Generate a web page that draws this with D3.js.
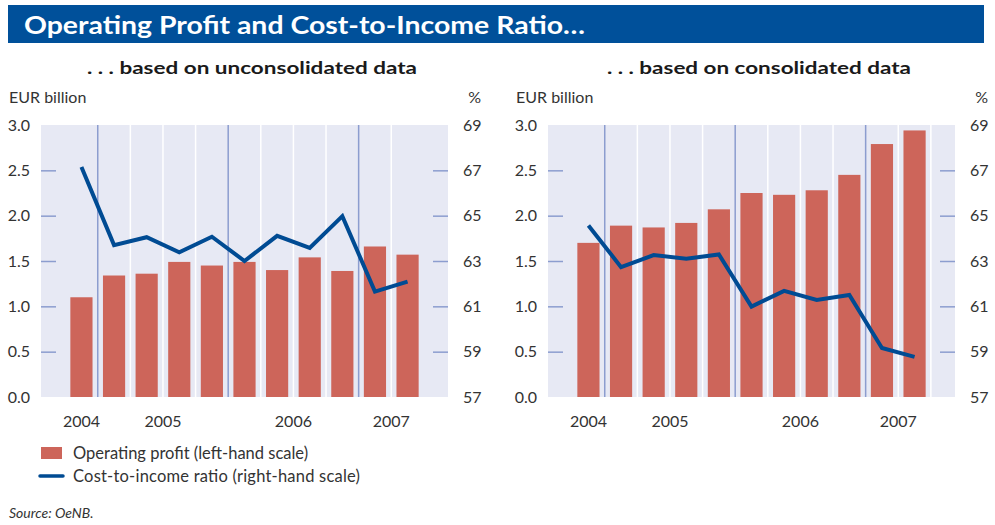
<!DOCTYPE html>
<html>
<head>
<meta charset="utf-8">
<script src="https://cdn.jsdelivr.net/npm/d3@7"></script>
<style>
  body { margin: 0; background: #fff; }
  text { font-family: Lato, "Open Sans", sans-serif; }
</style>
</head>
<body>
<div id="chart-area"></div>
<script>
// quarters shown on both panels (Q4 2004 .. Q2 2007)
var quarters = ["Q4 04", "Q1 05", "Q2 05", "Q3 05", "Q4 05", "Q1 06", "Q2 06", "Q3 06", "Q4 06", "Q1 07", "Q2 07"];
var quarterYear = ["2004", "2005", "2005", "2005", "2005", "2006", "2006", "2006", "2006", "2007", "2007"];
var years = ["2004", "2005", "2006", "2007"];

// operating profit, EUR billion
var profitUncons = [1.10, 1.34, 1.36, 1.49, 1.45, 1.49, 1.40, 1.54, 1.39, 1.66, 1.57];
var profitCons   = [1.70, 1.89, 1.87, 1.92, 2.07, 2.25, 2.23, 2.28, 2.45, 2.79, 2.94];

// cost-to-income ratio, %
var ratioUncons = [67.15, 63.70, 64.05, 63.38, 64.07, 63.00, 64.11, 63.58, 64.98, 61.65, 62.09];
var ratioCons   = [64.57, 62.73, 63.26, 63.10, 63.29, 60.99, 61.68, 61.28, 61.50, 59.16, 58.77];

var leftTicks = [0, 0.5, 1.0, 1.5, 2.0, 2.5, 3.0];
var rightTicks = [57, 59, 61, 63, 65, 67, 69];

var barColor = "#cd655a",
    lineColor = "#004b93",
    plotBg = "#e7e9f4",
    tickColor = "#8c9dcf",
    textColor = "#333";

var svg = d3.select("#chart-area")
    .append("svg")
    .attr("width", 995)
    .attr("height", 525);

// header band
svg.append("rect")
    .attr("x", 8).attr("y", 5)
    .attr("width", 976).attr("height", 38)
    .attr("fill", "#00509a");

svg.append("text")
    .attr("x", 24).attr("y", 34)
    .attr("fill", "#fff")
    .attr("font-family", "'Open Sans', Lato, sans-serif")
    .attr("font-size", "24px")
    .attr("font-weight", "bold")
    .attr("textLength", 561)
    .attr("lengthAdjust", "spacingAndGlyphs")
    .text("Operating Profit and Cost-to-Income Ratio…");

var plotTop = 125, plotHeight = 272, plotWidth = 407;

function drawPanel(left, title, titleWidth, profit, ratio, trailingLine) {
    var g = svg.append("g")
        .attr("transform", "translate(" + left + "," + plotTop + ")");

    svg.append("text")
        .attr("x", left + 211 - titleWidth / 2).attr("y", 74)
        .attr("font-family", "'Open Sans', Lato, sans-serif")
        .attr("font-size", "17px")
        .attr("font-weight", "bold")
        .attr("fill", "#1a1a1a")
        .attr("textLength", titleWidth)
        .attr("lengthAdjust", "spacingAndGlyphs")
        .text(title);

    svg.append("text")
        .attr("x", left - 32).attr("y", 103)
        .attr("font-size", "16px")
        .attr("fill", textColor)
        .text("EUR billion");

    svg.append("text")
        .attr("x", left + plotWidth + 33).attr("y", 103)
        .attr("text-anchor", "end")
        .attr("font-size", "16px")
        .attr("fill", textColor)
        .text("%");

    var x = d3.scaleBand()
        .domain(quarters)
        .range([0, plotWidth])
        .paddingOuter(0.74)
        .paddingInner(0);

    var y = d3.scaleLinear().domain([0, 3]).range([plotHeight, 0]);
    var y2 = d3.scaleLinear().domain([57, 69]).range([plotHeight, 0]);

    g.append("rect")
        .attr("width", plotWidth)
        .attr("height", plotHeight)
        .attr("fill", plotBg);

    // separators between quarters, darker ones between years
    var seps = quarters.slice(1).map(function(q, i) {
        return { x: x(q), yearBreak: quarterYear[i + 1] !== quarterYear[i] };
    });
    if (trailingLine) {
        seps.push({ x: x(quarters[quarters.length - 1]) + x.bandwidth(), yearBreak: false });
    }
    g.selectAll(".sep")
        .data(seps)
        .enter().append("line")
        .attr("class", "sep")
        .attr("x1", function(d) { return d.x; })
        .attr("x2", function(d) { return d.x; })
        .attr("y1", 0).attr("y2", plotHeight)
        .attr("stroke", function(d) { return d.yearBreak ? tickColor : "#fff"; })
        .attr("stroke-width", 1.5);

    var bw = x.bandwidth() * 0.68;
    g.selectAll(".bar")
        .data(profit)
        .enter().append("rect")
        .attr("class", "bar")
        .attr("x", function(d, i) { return x(quarters[i]) + (x.bandwidth() - bw) / 2; })
        .attr("y", function(d) { return y(d); })
        .attr("width", bw)
        .attr("height", function(d) { return plotHeight - y(d); })
        .attr("fill", barColor);

    var line = d3.line()
        .x(function(d, i) { return x(quarters[i]) + x.bandwidth() / 2; })
        .y(function(d) { return y2(d); });

    g.append("path")
        .datum(ratio)
        .attr("d", line)
        .attr("fill", "none")
        .attr("stroke", lineColor)
        .attr("stroke-width", 4)
        .attr("stroke-linejoin", "miter");

    // axes
    var yAxis = g.append("g")
        .call(d3.axisLeft(y).tickValues(leftTicks).tickSize(-15).tickPadding(11)
            .tickFormat(d3.format(".1f")));
    var y2Axis = g.append("g")
        .attr("transform", "translate(" + plotWidth + ",0)")
        .call(d3.axisRight(y2).tickValues(rightTicks).tickSize(-15).tickPadding(15));

    [yAxis, y2Axis].forEach(function(ax, k) {
        ax.select(".domain").remove();
        ax.selectAll(".tick line")
            .attr("stroke", tickColor)
            .attr("stroke-width", 1.5)
            .attr("opacity", function(d) {
                var ends = k === 0 ? [0, 3] : [57, 69];
                return ends.indexOf(d) >= 0 ? 0 : 1;
            });
        ax.selectAll(".tick text")
            .attr("font-size", "16px")
            .attr("font-family", "Lato, 'Open Sans', sans-serif")
            .attr("fill", textColor);
    });

    // year labels centred under each year's quarters
    g.selectAll(".year")
        .data(years)
        .enter().append("text")
        .attr("class", "year")
        .attr("x", function(yr) {
            var cs = quarters.filter(function(q, i) { return quarterYear[i] === yr; })
                .map(function(q) { return x(q) + x.bandwidth() / 2; });
            return d3.mean(cs);
        })
        .attr("y", plotHeight + 30)
        .attr("text-anchor", "middle")
        .attr("font-size", "16px")
        .attr("fill", textColor)
        .text(function(d) { return d; });
}

drawPanel(41, ". . . based on unconsolidated data", 330, profitUncons, ratioUncons, false);
drawPanel(548, ". . . based on consolidated data", 304, profitCons, ratioCons, true);

// legend
var legend = svg.append("g");
legend.append("rect")
    .attr("x", 41).attr("y", 447)
    .attr("width", 21).attr("height", 12)
    .attr("fill", barColor);
legend.append("text")
    .attr("x", 73).attr("y", 459)
    .attr("font-size", "16.5px")
    .attr("fill", textColor)
    .text("Operating profit (left-hand scale)");
legend.append("line")
    .attr("x1", 40).attr("x2", 63)
    .attr("y1", 476).attr("y2", 476)
    .attr("stroke", lineColor)
    .attr("stroke-width", 3.5)
    .attr("stroke-linecap", "round");
legend.append("text")
    .attr("x", 73).attr("y", 482)
    .attr("font-size", "16.5px")
    .attr("fill", textColor)
    .attr("textLength", 287)
    .attr("lengthAdjust", "spacing")
    .text("Cost-to-income ratio (right-hand scale)");

svg.append("text")
    .attr("x", 9).attr("y", 518)
    .attr("font-size", "14px")
    .attr("font-style", "italic")
    .attr("fill", textColor)
    .text("Source: OeNB.");
</script>
</body>
</html>
